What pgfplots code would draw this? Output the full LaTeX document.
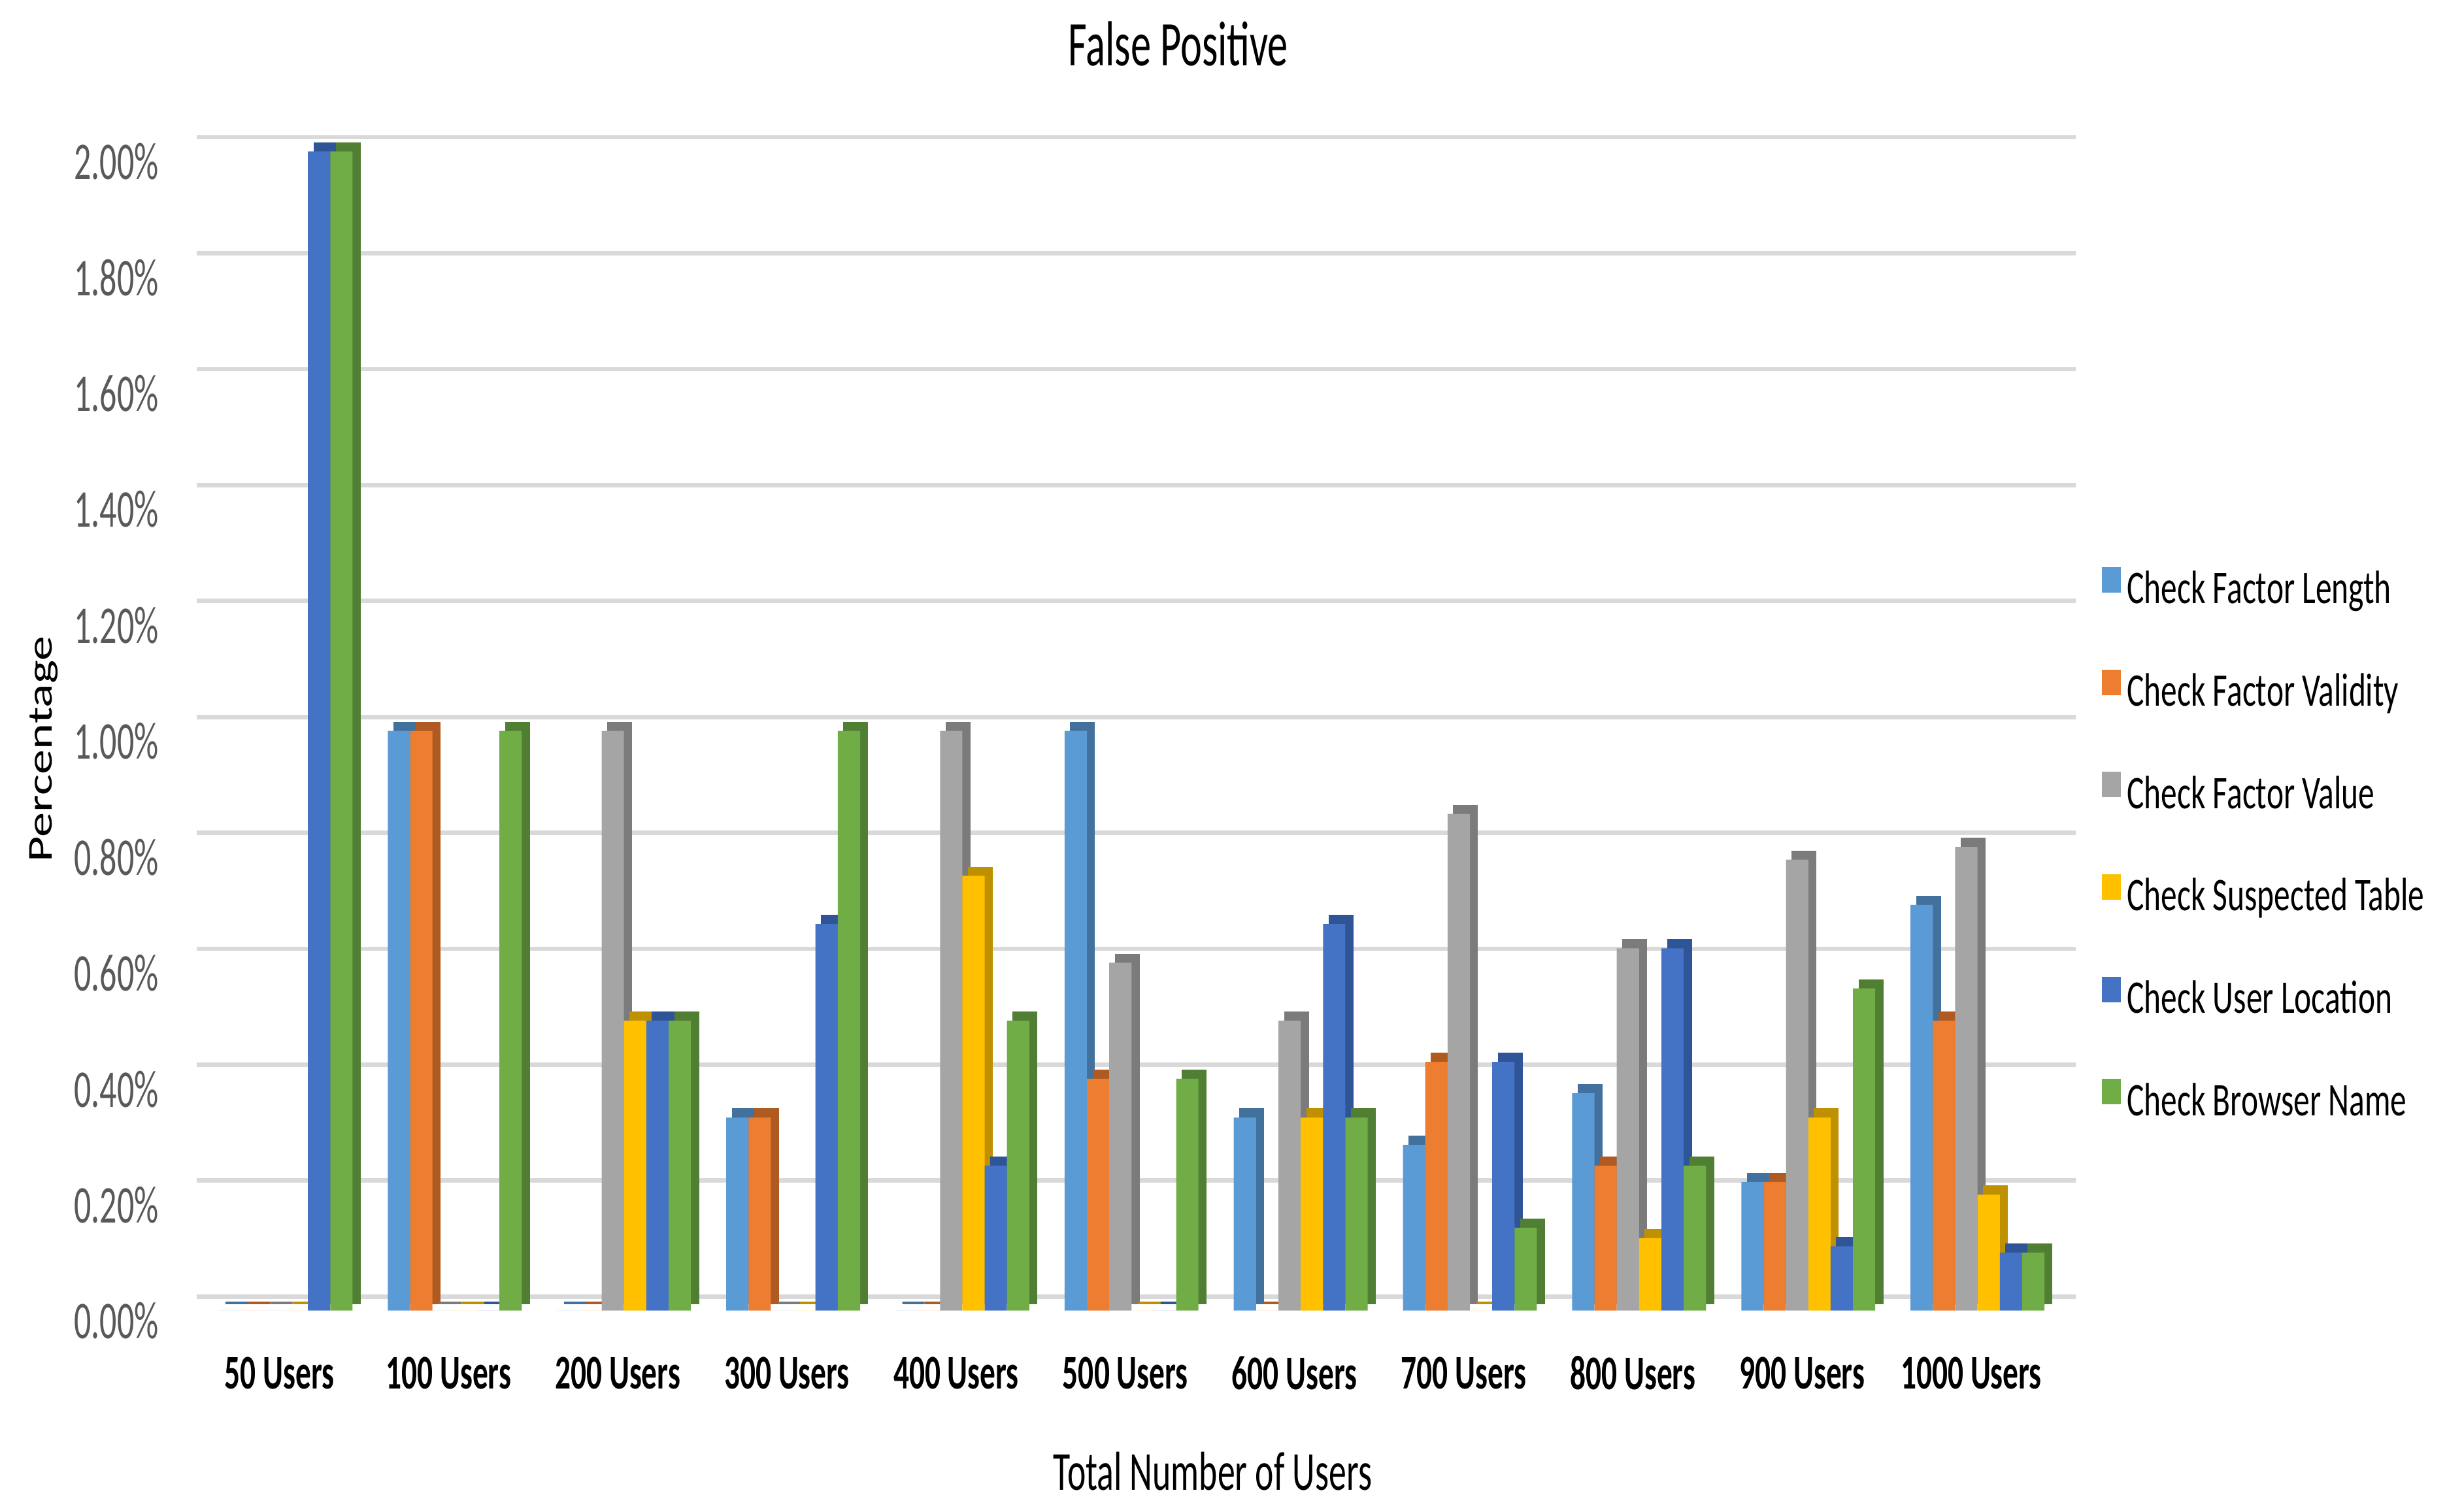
\documentclass[border=0pt]{standalone}
\usepackage{fontspec}
\usepackage{pgfplots}
\usepackage{pgfplotstable}
\pgfplotsset{compat=1.18}
\setmainfont{Carlito}
\newfontfamily\condfont[FakeStretch=0.64]{Carlito}
\newfontfamily\legfont[FakeStretch=0.69]{Carlito}
\definecolor{c1}{HTML}{5B9BD5}
\definecolor{c2}{HTML}{ED7D31}
\definecolor{c3}{HTML}{A5A5A5}
\definecolor{c4}{HTML}{FFC000}
\definecolor{c5}{HTML}{4472C4}
\definecolor{c6}{HTML}{70AD47}
\definecolor{d1}{HTML}{41719C}
\definecolor{d2}{HTML}{AE5A21}
\definecolor{d3}{HTML}{7B7B7B}
\definecolor{d4}{HTML}{BF9000}
\definecolor{d5}{HTML}{2F5597}
\definecolor{d6}{HTML}{507E32}
\definecolor{gridc}{HTML}{D9D9D9}
\definecolor{ytc}{HTML}{595959}

\pgfplotstableread{
x   len   val   valu  tab   loc   brw
0   0     0     0     0     2.00  2.00
1   1.00  1.00  0     0     0     1.00
2   0     0     1.00  0.50  0.50  0.50
3   0.333 0.333 0     0     0.667 1.00
4   0     0     1.00  0.75  0.25  0.50
5   1.00  0.40  0.60  0     0     0.40
6   0.333 0     0.50  0.333 0.667 0.333
7   0.286 0.429 0.857 0     0.429 0.143
8   0.375 0.25  0.625 0.125 0.625 0.25
9   0.222 0.222 0.778 0.333 0.111 0.556
10  0.70  0.50  0.80  0.20  0.10  0.10
}\fpdata

\begin{document}
\begin{tikzpicture}
\path[use as bounding box] (-63pt,-64.5pt) rectangle (721pt,420pt);
\begin{axis}[
  at={(0pt,0pt)}, anchor=south west,
  scale only axis, width=602pt, height=371.5pt,
  xmin=-0.526, xmax=10.58, ymin=0, ymax=2,
  clip=false,
  axis line style={draw=none},
  major tick length=0pt,
  ybar, bar width=7.15pt,
  xtick={0,1,2,3,4,5,6,7,8,9,10},
  xticklabels={50 Users,100 Users,200 Users,300 Users,400 Users,500 Users,600 Users,700 Users,800 Users,900 Users,1000 Users},
  ytick={0,0.2,0.4,0.6,0.8,1.0,1.2,1.4,1.6,1.8,2.0},
  yticklabels={0.00\%,0.20\%,0.40\%,0.60\%,0.80\%,1.00\%,1.20\%,1.40\%,1.60\%,1.80\%,2.00\%},
  ymajorgrids, xmajorgrids=false,
  major grid style={draw=gridc, line width=1.4pt, yshift=4.5pt},
  xticklabel style={font=\condfont\bfseries\fontsize{15.5}{18}\selectfont, anchor=center, yshift=-20pt, xshift=-2pt, text=black},
  yticklabel style={font=\condfont\fontsize{17}{20}\selectfont, anchor=east, xshift=-12pt, yshift=-3.3pt, text=ytc, inner sep=0pt},
  legend cell align=left,
  legend style={draw=none, fill=none, at={(1.0141,0.4008)}, anchor=west, inner sep=0pt, outer sep=0pt,
    row sep=18.1pt, column sep=2pt, font=\legfont\fontsize{15}{18}\selectfont,
    nodes={inner sep=0pt, text height=10pt, text depth=3pt}},
  legend image code/.code={\fill[#1] (0pt,0pt) rectangle (6pt,8.2pt);},
]
\addplot[fill=d1, draw=d1, line width=0.8pt, bar shift=-15.675pt, yshift=2.5pt, forget plot] table[x=x,y=len]{\fpdata};
\addplot[fill=c1, draw=none, bar shift=-17.875pt] table[x=x,y=len]{\fpdata};
\addlegendentry{Check Factor Length}
\addplot[fill=d2, draw=d2, line width=0.8pt, bar shift=-8.525pt, yshift=2.5pt, forget plot] table[x=x,y=val]{\fpdata};
\addplot[fill=c2, draw=none, bar shift=-10.725pt] table[x=x,y=val]{\fpdata};
\addlegendentry{Check Factor Validity}
\addplot[fill=d3, draw=d3, line width=0.8pt, bar shift=-1.375pt, yshift=2.5pt, forget plot] table[x=x,y=valu]{\fpdata};
\addplot[fill=c3, draw=none, bar shift=-3.575pt] table[x=x,y=valu]{\fpdata};
\addlegendentry{Check Factor Value}
\addplot[fill=d4, draw=d4, line width=0.8pt, bar shift=5.775pt, yshift=2.5pt, forget plot] table[x=x,y=tab]{\fpdata};
\addplot[fill=c4, draw=none, bar shift=3.575pt] table[x=x,y=tab]{\fpdata};
\addlegendentry{Check Suspected Table}
\addplot[fill=d5, draw=d5, line width=0.8pt, bar shift=12.925pt, yshift=2.5pt, forget plot] table[x=x,y=loc]{\fpdata};
\addplot[fill=c5, draw=none, bar shift=10.725pt] table[x=x,y=loc]{\fpdata};
\addlegendentry{Check User Location}
\addplot[fill=d6, draw=d6, line width=0.8pt, bar shift=20.075pt, yshift=2.5pt, forget plot] table[x=x,y=brw]{\fpdata};
\addplot[fill=c6, draw=none, bar shift=17.875pt] table[x=x,y=brw]{\fpdata};
\addlegendentry{Check Browser Name}
\end{axis}
\node[font=\condfont\fontsize{20.4}{24}\selectfont, text=black] at (314.5pt,406pt) {False Positive};
\node[font=\condfont\fontsize{17.6}{21}\selectfont, text=black] at (325.5pt,-51.5pt) {Total Number of Users};
\node[font=\fontsize{16}{19}\selectfont, text=black, xscale=0.7, rotate=90] at (-49pt,180pt) {Percentage};
\end{tikzpicture}
\end{document}
